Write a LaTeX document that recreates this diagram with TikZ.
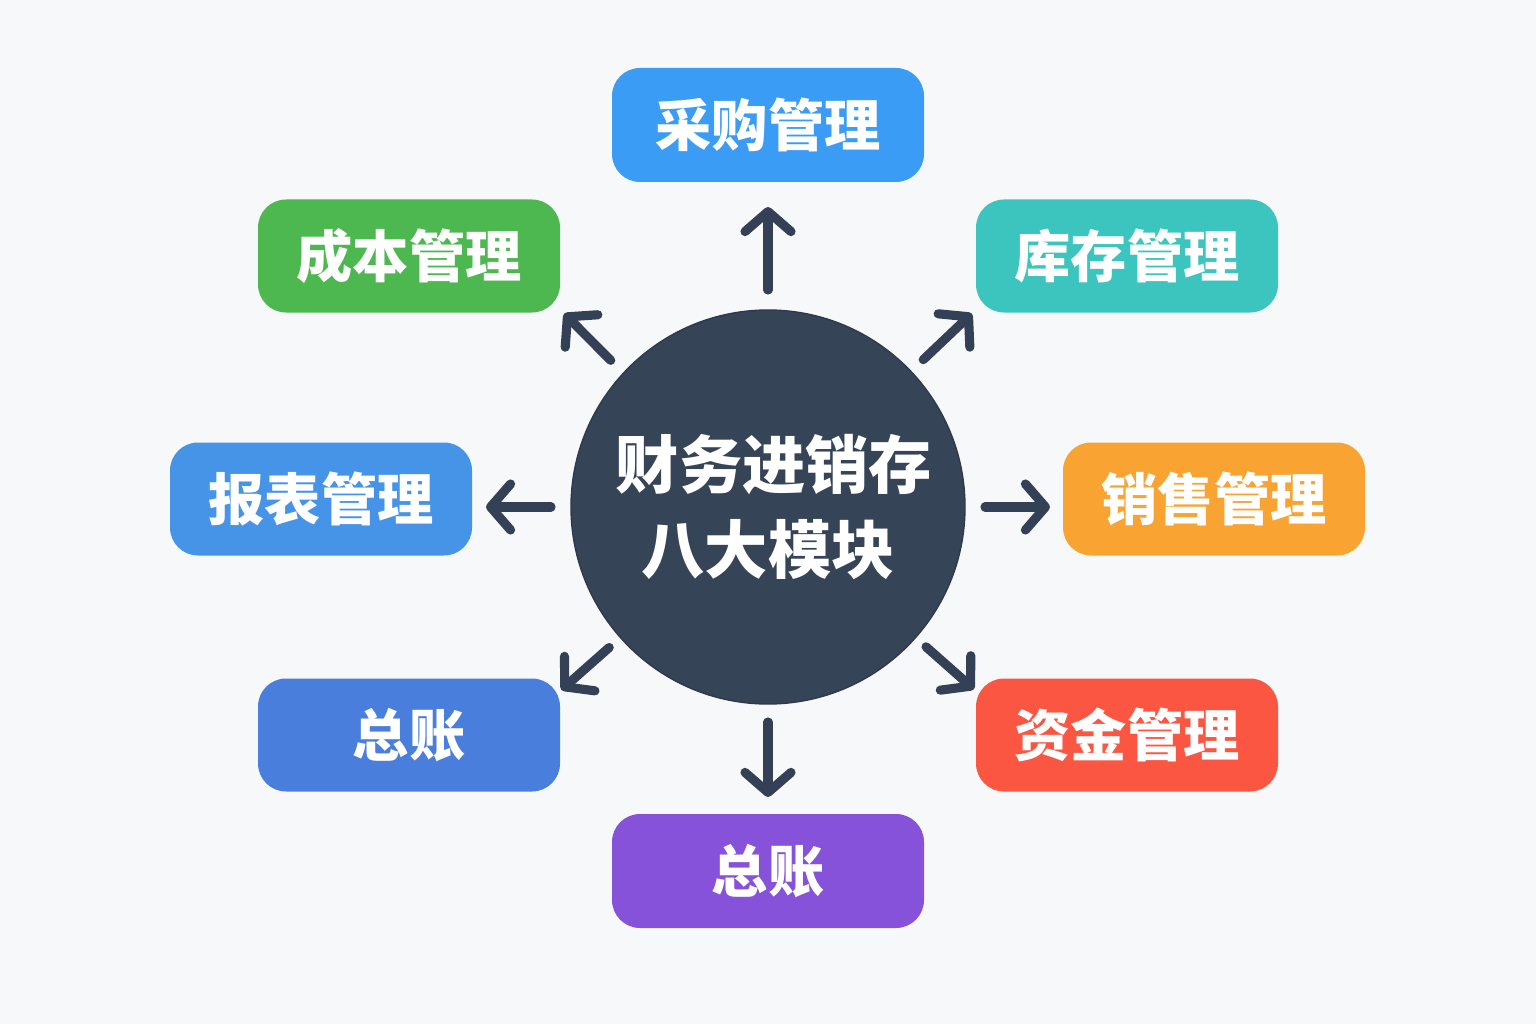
\documentclass[tikz,border=0pt]{standalone}
\usepackage{fontspec}
\newfontfamily\cjk{Noto Sans CJK SC}
\usetikzlibrary{arrows.meta,calc}
\definecolor{bgc}{HTML}{F7F8FA}
\definecolor{cBlueA}{HTML}{3A9CF4}
\definecolor{cGreen}{HTML}{4DB850}
\definecolor{cTeal}{HTML}{3CC5BE}
\definecolor{cBlueB}{HTML}{4694E8}
\definecolor{cOrange}{HTML}{F8A332}
\definecolor{cBlueC}{HTML}{4A7EDC}
\definecolor{cRed}{HTML}{FA5642}
\definecolor{cPurple}{HTML}{8752DA}
\definecolor{cCircle}{HTML}{364458}
\definecolor{cArrow}{HTML}{334055}
\tikzset{
  modbox/.style={rounded corners=0.28cm, minimum width=3.02cm, minimum height=1.13cm,
    text=white, font=\cjk\bfseries\fontsize{16}{20}\selectfont, inner sep=0pt},
  widebox/.style={modbox, minimum width=3.12cm, minimum height=1.14cm},
  hub/.style={circle, fill=cCircle, draw=cCircle!85!black, line width=0.4pt,
    minimum size=3.94cm, inner sep=0pt, text=white, align=center,
    font=\cjk\bfseries\fontsize{18}{24}\selectfont},
  arr/.style={draw=cArrow, line width=2.6pt, line cap=round, line join=round,
    -{Straight Barb[length=2mm, width=4.6mm, round]}}
}
\begin{document}
\begin{tikzpicture}
\fill[bgc] (0,0) rectangle (15.36,10.24);
\useasboundingbox (0,0) rectangle (15.36,10.24);
% hub
\node[hub] (c) at (7.68,5.17) {\hspace*{0.12cm}财务进销存\\八大模块};
% modules
\node[widebox, fill=cBlueA] (cg) at (7.68,8.99) {采购管理};
\node[modbox, fill=cGreen] (cb) at (4.09,7.68) {成本管理};
\node[modbox, fill=cTeal] (kc) at (11.27,7.68) {库存管理};
\node[modbox, fill=cBlueB] (bb) at (3.21,5.25) {报表管理};
\node[modbox, fill=cOrange] (xs) at (12.14,5.25) {销售管理};
\node[modbox, fill=cBlueC] (zz1) at (4.09,2.89) {总账};
\node[modbox, fill=cRed] (zj) at (11.27,2.89) {资金管理};
\node[widebox, fill=cPurple] (zz2) at (7.68,1.53) {总账};
% arrows from hub outward
\draw[arr] ($(c.center)+(90:2.17)$) -- ($(c.center)+(90:3.0)$);
\draw[arr] ($(c.center)+(270:2.15)$) -- ($(c.center)+(270:2.9)$);
\draw[arr] ($(c.center)+(180:2.17)$) -- ($(c.center)+(180:2.82)$);
\draw[arr] ($(c.center)+(0:2.17)$) -- ($(c.center)+(0:2.82)$);
\draw[arr] ($(c.center)+(137:2.15)$) -- ($(c.center)+(136.5:2.81)$);
\draw[arr] ($(c.center)+(43.5:2.14)$) -- ($(c.center)+(43.5:2.81)$);
\draw[arr] ($(c.center)+(221.5:2.12)$) -- ($(c.center)+(221.5:2.76)$);
\draw[arr] ($(c.center)+(318.5:2.11)$) -- ($(c.center)+(318.5:2.75)$);
\end{tikzpicture}
\end{document}
